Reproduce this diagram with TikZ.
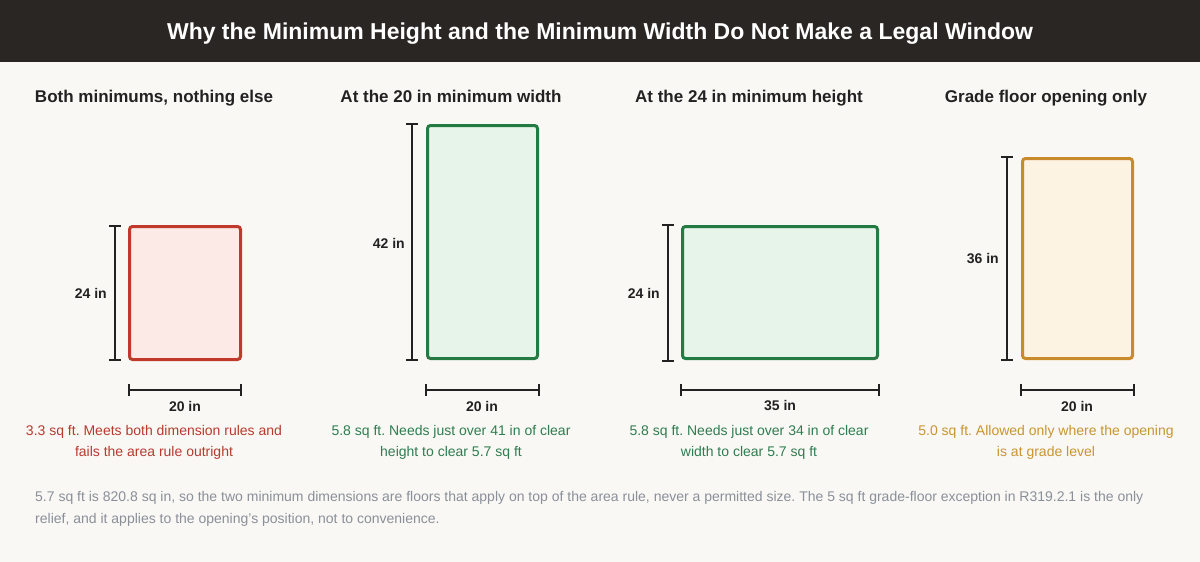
\documentclass[tikz,border=0pt]{standalone}
\usepackage{fontspec}
\setmainfont{Liberation Sans}
\frenchspacing
\definecolor{bg}{HTML}{F9F8F5}
\definecolor{bar}{HTML}{2A2624}
\definecolor{ink}{HTML}{222222}
\definecolor{redS}{HTML}{C0392B}
\definecolor{redF}{HTML}{FBEAE6}
\definecolor{redT}{HTML}{B83A2E}
\definecolor{grnS}{HTML}{237A42}
\definecolor{grnF}{HTML}{E6F4EA}
\definecolor{grnT}{HTML}{2E7D4F}
\definecolor{orgS}{HTML}{C98A2B}
\definecolor{orgF}{HTML}{FDF3E2}
\definecolor{orgT}{HTML}{C9952F}
\definecolor{foot}{HTML}{8A8F98}
\tikzset{
  win/.style={draw=#1S, fill=#1F, line width=3pt, rounded corners=3pt, inner sep=0pt, outer sep=0pt, anchor=north west},
  dimline/.style={draw=ink, line width=2pt},
  dimcap/.style={draw=ink, line width=2pt},
  head/.style={font=\bfseries\fontsize{17}{20}\selectfont, text=ink, inner sep=0pt, anchor=base},
  dimlab/.style={font=\bfseries\fontsize{14}{16}\selectfont, text=ink, inner sep=0pt},
  cap/.style={font=\fontsize{14}{21}\selectfont, text=#1T, align=center, inner sep=0pt, anchor=north},
}
\newcommand{\dimV}[4]{% x, ytop, ybot, name
  \coordinate (#4a) at (#1,#2); \coordinate (#4b) at (#1,#3);
  \draw[dimline] (#4a) -- (#4b);
  \draw[dimcap] ([xshift=-6pt]#4a) -- ([xshift=6pt]#4a);
  \draw[dimcap] ([xshift=-6pt]#4b) -- ([xshift=6pt]#4b);}
\newcommand{\dimH}[4]{% y, xleft, xright, name
  \coordinate (#4a) at (#2,#1); \coordinate (#4b) at (#3,#1);
  \draw[dimline] (#4a) -- (#4b);
  \draw[dimcap] ([yshift=-6pt]#4a) -- ([yshift=6pt]#4a);
  \draw[dimcap] ([yshift=-6pt]#4b) -- ([yshift=6pt]#4b);}
\begin{document}
\begin{tikzpicture}[x=1pt,y=-1pt]
\fill[bg] (0,0) rectangle (1200,562);
\useasboundingbox (0,0) rectangle (1200,562);
\fill[bar] (0,0) rectangle (1200,62);
\node[font=\bfseries\fontsize{23}{26}\selectfont, text=white, inner sep=0pt, anchor=base] (title) at (600,39) {Why the Minimum Height and the Minimum Width Do Not Make a Legal Window};

% headings
\node[head] (h1) at (154,102) {Both minimums, nothing else};
\node[head] (h2) at (451,102) {At the 20 in minimum width};
\node[head] (h3) at (749,102) {At the 24 in minimum height};
\node[head] (h4) at (1046,102) {Grade floor opening only};

% panel 1
\node[win=red, minimum width=111pt, minimum height=133pt] (w1) at (129.5,226.5) {};
\dimV{115}{226}{360}{v1}
\node[dimlab, anchor=east] (l1v) at (107,293) {24 in};
\dimH{390}{129}{241}{h1d}
\node[dimlab] (l1h) at (185,406) {20 in};
\node[cap=red] (c1) at (154,425) {3.3 sq ft. Meets both dimension rules and\\fails the area rule outright};

% panel 2
\node[win=grn, minimum width=110pt, minimum height=233pt] (w2) at (427.5,125.5) {};
\dimV{412}{124}{360}{v2}
\node[dimlab, anchor=east] (l2v) at (405,243) {42 in};
\dimH{390}{426}{539}{h2d}
\node[dimlab] (l2h) at (482,406) {20 in};
\node[cap=grn] (c2) at (451,425) {5.8 sq ft. Needs just over 41 in of clear\\height to clear 5.7 sq ft};

% panel 3
\node[win=grn, minimum width=195pt, minimum height=132pt] (w3) at (682.5,226.5) {};
\dimV{668}{225}{361}{v3}
\node[dimlab, anchor=east] (l3v) at (660,293) {24 in};
\dimH{390}{681}{879}{h3d}
\node[dimlab] (l3h) at (780,406) {35 in};
\node[cap=grn] (c3) at (749,425) {5.8 sq ft. Needs just over 34 in of clear\\width to clear 5.7 sq ft};

% panel 4
\node[win=org, minimum width=110pt, minimum height=200pt] (w4) at (1022.5,158.5) {};
\dimV{1007}{157}{360}{v4}
\node[dimlab, anchor=east] (l4v) at (999,259) {36 in};
\dimH{390}{1021}{1134}{h4d}
\node[dimlab] (l4h) at (1077,406) {20 in};
\node[cap=org] (c4) at (1046,425) {5.0 sq ft. Allowed only where the opening\\is at grade level};

% footer
\node[font=\fontsize{14}{22}\selectfont, text=foot, align=left, anchor=north west, inner sep=0pt] (foot) at (35,491) {5.7 sq ft is 820.8 sq in, so the two minimum dimensions are floors that apply on top of the area rule, never a permitted size. The 5 sq ft grade-floor exception in R319.2.1 is the only\\relief, and it applies to the opening's position, not to convenience.};
\end{tikzpicture}
\end{document}
